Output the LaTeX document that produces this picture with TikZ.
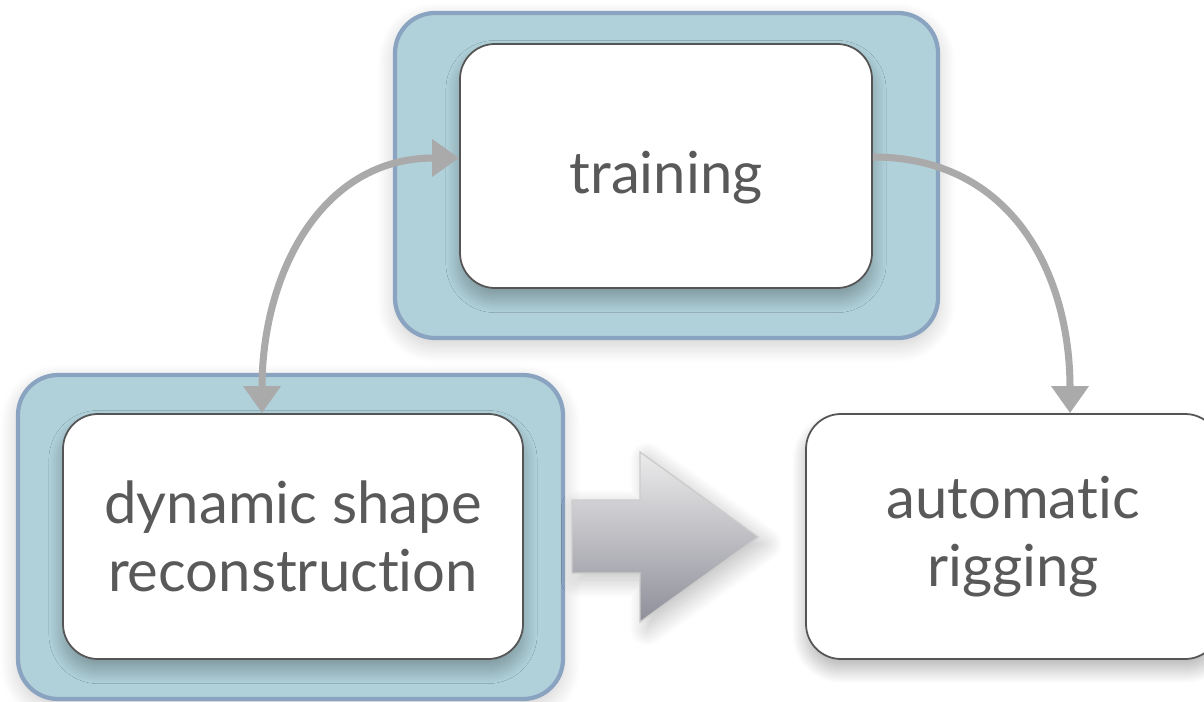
\documentclass[tikz,border=0pt]{standalone}
\usepackage{fontspec}
\setmainfont{Lato}[Ligatures={NoCommon,NoRequired,NoContextual}]
\usetikzlibrary{arrows.meta, shadows.blur}
\definecolor{panelfill}{HTML}{B0D1DA}
\definecolor{panelline}{HTML}{8AA3C1}
\definecolor{boxline}{HTML}{555555}
\definecolor{labeltext}{HTML}{595959}
\definecolor{linkgray}{HTML}{AAAAAA}
\newcommand{\labelfont}{\fontsize{16.5}{19.5}\selectfont}

\begin{document}
\begin{tikzpicture}[
  >={Triangle[length=0.27cm, width=0.36cm]},
  panel/.style={draw=panelline, line width=1.2pt, fill=panelfill,
    rounded corners=0.4cm, inner sep=0pt,
    blur shadow={shadow xshift=0pt, shadow yshift=-2pt, shadow blur radius=5pt,
      shadow blur steps=20, shadow opacity=20}},
  stagebox/.style={draw=boxline, line width=0.5pt, fill=white,
    rounded corners=0.35cm, inner sep=0pt, align=center,
    text=labeltext, font=\labelfont,
    blur shadow={shadow xshift=0pt, shadow yshift=-3pt, shadow blur radius=4pt,
      shadow blur steps=30, shadow opacity=30}},
  link/.style={draw=linkgray, line width=2pt}
]
  \useasboundingbox (0,0) rectangle (12.04,7.01);
  \clip (0,0) rectangle (12.04,7.01);

  % Panels
  \node[panel, minimum width=5.43cm, minimum height=3.25cm] (toppanel) at (6.665, 5.255) {};
  \node[panel, minimum width=5.45cm, minimum height=3.24cm] (dynpanel) at (2.905, 1.64) {};

  % Stages
  \node[stagebox, minimum width=4.12cm, minimum height=2.44cm] (train) at (6.66, 5.35)
    {\raisebox{-0.12cm}[\height][\depth]{training}};
  \node[stagebox, minimum width=4.60cm, minimum height=2.45cm] (dyn) at (2.93, 1.645)
    {dynamic shape\\reconstruction};
  \node[stagebox, minimum width=4.14cm, minimum height=2.45cm] (rig) at (10.13, 1.645)
    {automatic\\rigging};

  % Big arrow
  \shade[top color=gray!15, bottom color=black!45!blue!10!gray!80, draw=gray!40, line width=0.4pt,
    blur shadow={shadow xshift=2pt, shadow yshift=-2pt, shadow blur radius=5pt,
      shadow blur steps=20, shadow opacity=25}]
    (5.72, 2.01) -- (6.40, 2.01) -- (6.40, 2.49) -- (7.58, 1.64)
    -- (6.40, 0.79) -- (6.40, 1.28) -- (5.72, 1.28) -- cycle;

  % Links
  \draw[link, <->] ([yshift=0.08cm]train.west)
    to[out=180, in=90, looseness=1.1] ([xshift=-0.31cm]dyn.north);
  \draw[link, ->] ([yshift=0.09cm]train.east)
    to[out=0, in=90, looseness=1.1] ([xshift=0.57cm]rig.north);
\end{tikzpicture}
\end{document}
